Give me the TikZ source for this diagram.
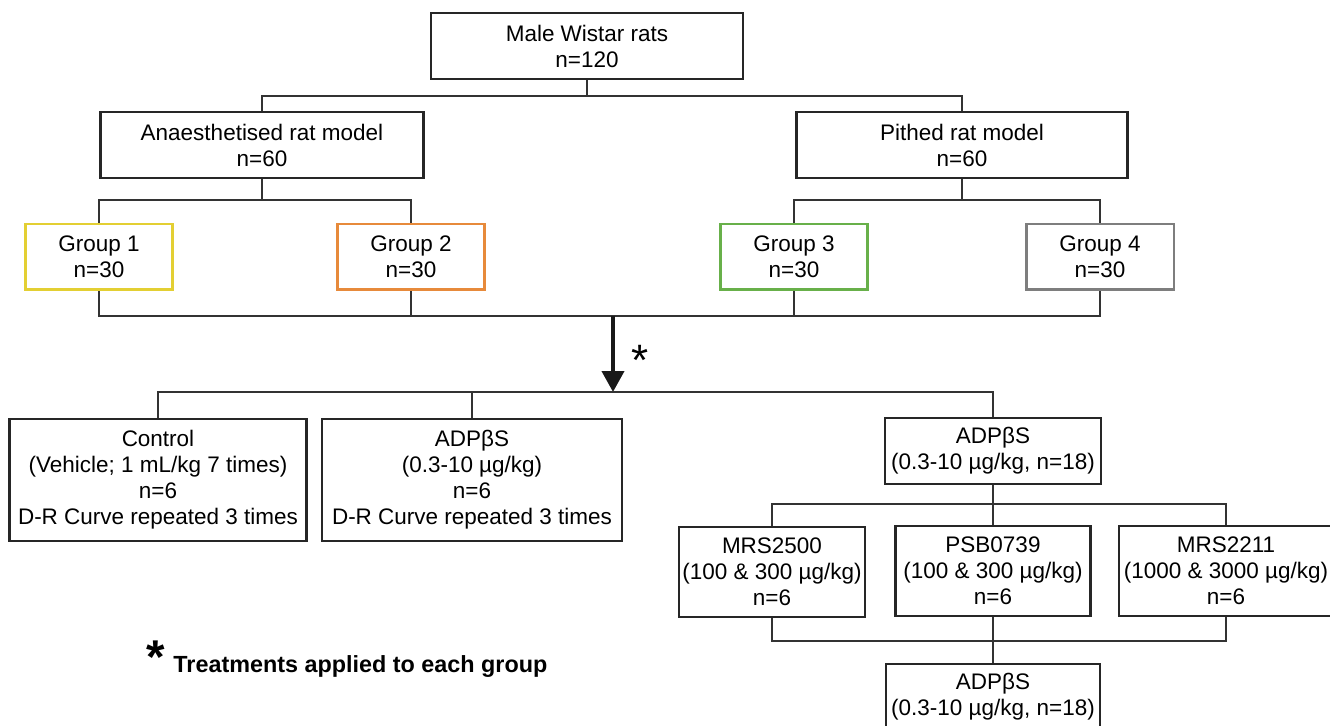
\documentclass[tikz,border=0pt]{standalone}
\usepackage{fontspec}
\setmainfont{Liberation Sans}
\usepackage{tikz}
\usetikzlibrary{arrows.meta,positioning,calc}
\definecolor{grpyellow}{HTML}{E3CF33}
\definecolor{grporange}{HTML}{E78A3B}
\definecolor{grpgreen}{HTML}{68B04A}
\definecolor{grpgrey}{HTML}{7E7E7E}
\newcommand{\boxfont}{\fontsize{12.8}{14.8}\selectfont}
\tikzset{
  box/.style={rectangle, draw=black!85, line width=1.3pt, fill=white,
              align=center, font=\boxfont, minimum height=1.32cm, inner sep=1pt},
  grp/.style={rectangle, draw=#1, line width=1.7pt, fill=white,
              align=center, font=\boxfont, minimum width=2.96cm, minimum height=1.32cm},
  link/.style={line width=1.2pt, draw=black!80},
  bigarr/.style={-{Triangle[width=4.4mm,length=4.2mm]}, line width=2.3pt, draw=black!90},
}

\begin{document}
\begin{tikzpicture}[x=0.02cm, y=-0.02cm]
    \useasboundingbox (0,0) rectangle (1330,726);
    % study population and models
    \node[box, minimum width=6.24cm] (rats) at (587,46) {Male Wistar rats\\n=120};
    \node[box, minimum width=6.46cm] (anaes) at (262,145) {Anaesthetised rat model\\n=60};
    \node[box, minimum width=6.62cm] (pithed) at (962,145) {Pithed rat model\\n=60};
    \coordinate (s0) at (587,96);
    \draw[link] (rats) -- (s0);
    \draw[link] (anaes.north) |- (s0) -| (pithed.north);
    % groups
    \node[grp=grpyellow] (g1) at (99,257) {Group 1\\n=30};
    \node[grp=grporange] (g2) at (411,257) {Group 2\\n=30};
    \node[grp=grpgreen] (g3) at (794,257) {Group 3\\n=30};
    \node[grp=grpgrey] (g4) at (1100,257) {Group 4\\n=30};
    \coordinate (s1) at (262,200);
    \coordinate (s2) at (962,200);
    \draw[link] (anaes) -- (s1);
    \draw[link] (g1.north) |- (s1) -| (g2.north);
    \draw[link] (pithed) -- (s2);
    \draw[link] (g3.north) |- (s2) -| (g4.north);
    \coordinate (s3) at (613,316);
    \draw[link] (g1.south) |- (s3) -| (g4.south);
    \draw[link] (g2.south) -- (g2.south |- s3);
    \draw[link] (g3.south) -- (g3.south |- s3);
    % treatments
    \coordinate (s4) at (613,392);
    \draw[bigarr] (s3) -- (s4);
    \node[font=\fontsize{25}{25}\selectfont] (star) at (640,360) {*};
    \node[box, minimum width=5.94cm, minimum height=2.44cm] (ctrl) at (158,480) {Control\\(Vehicle; 1 mL/kg 7 times)\\n=6\\D-R Curve repeated 3 times};
    \node[box, minimum width=6.0cm, minimum height=2.44cm] (adpa) at (472,480) {ADPβS\\(0.3-10 µg/kg)\\n=6\\D-R Curve repeated 3 times};
    \node[box, minimum width=4.32cm] (adpb) at (993,451) {ADPβS\\(0.3-10 µg/kg, n=18)};
    \draw[link] (ctrl.north) |- (s4) -| (adpb.north);
    \draw[link] (adpa.north) -- (adpa.north |- s4);
    % antagonists
    \node[box, minimum width=3.72cm, minimum height=1.8cm] (mrs25) at (772,572) {MRS2500\\(100 \& 300 µg/kg)\\n=6};
    \node[box, minimum width=3.9cm, minimum height=1.8cm] (psb) at (993,571) {PSB0739\\(100 \& 300 µg/kg)\\n=6};
    \node[box, minimum width=4.28cm, minimum height=1.8cm] (mrs22) at (1226,571) {MRS2211\\(1000 \& 3000 µg/kg)\\n=6};
    \node[box, minimum width=4.28cm] (adpc) at (993,697) {ADPβS\\(0.3-10 µg/kg, n=18)};
    \coordinate (s5) at (993,504);
    \coordinate (s6) at (993,641);
    \draw[link] (adpb) -- (psb);
    \draw[link] (mrs25.north) |- (s5) -| (mrs22.north);
    \draw[link] (mrs25.south) |- (s6) -| (mrs22.south);
    \draw[link] (psb) -- (adpc);
    % legend
    \node[anchor=base west, font=\fontsize{13.3}{15}\selectfont\bfseries] (legend) at (140,672) {\raisebox{-1pt}{\fontsize{27}{27}\selectfont *}\hspace{5pt}Treatments applied to each group};
\end{tikzpicture}
\end{document}
